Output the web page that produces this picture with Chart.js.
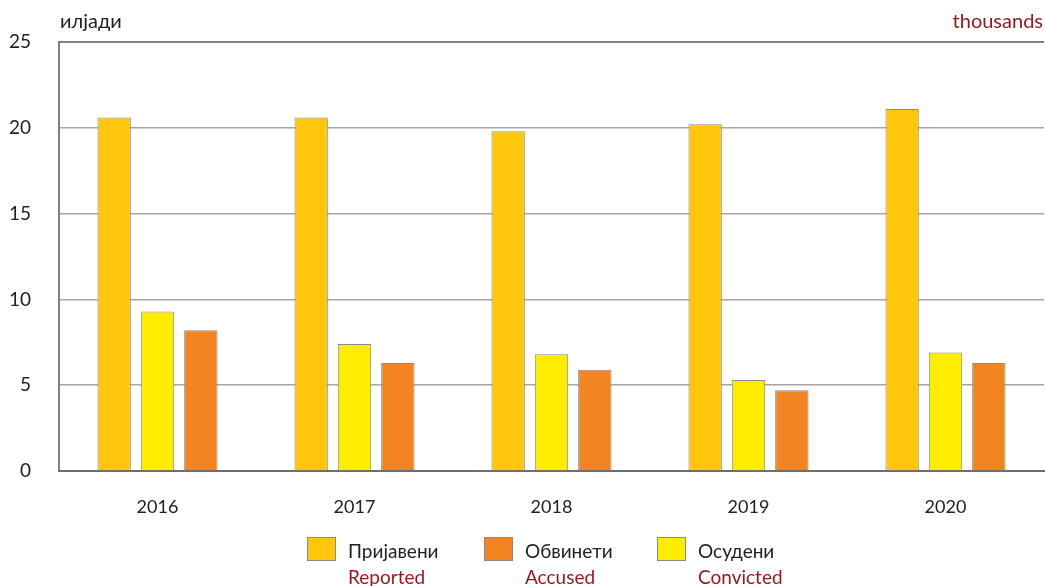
<!DOCTYPE html>
<html>
<head>
<meta charset="utf-8">
<script src="https://cdn.jsdelivr.net/npm/chart.js@4"></script>
<style>
  body { margin: 0; background: #fff; font-family: Lato, "Open Sans", sans-serif; }
  .wrap { position: relative; width: 1045px; height: 586px; }
  .unit { position: absolute; top: 8px; font-size: 20px; color: #222; }
  .unit-mk { left: 60px; }
  .unit-en { right: 2px; color: #9b1519; }
  .legend { position: absolute; top: 537px; left: 0; width: 1045px; }
  .item { position: absolute; top: 0; }
  .box { position: absolute; left: 0; top: 0; width: 29px; height: 24px; border: 1px solid #8a8a8a; box-sizing: border-box; }
  .txt { position: absolute; left: 41px; top: 1px; font-size: 19px; color: #222; white-space: nowrap; line-height: 26px; }
  .txt span { display: block; color: #9b1519; }
</style>
</head>
<body>
<div class="wrap">
  <canvas class="js-kaznivi" width="1045" height="586"></canvas>
  <div class="unit unit-mk">илјади</div>
  <div class="unit unit-en">thousands</div>
  <div class="legend js-legend"></div>
</div>
<script>
const years = ["2016", "2017", "2018", "2019", "2020"];
const reported = [20.6, 20.6, 19.8, 20.2, 21.1];
const convicted = [9.3, 7.4, 6.8, 5.3, 6.9];
const accused = [8.2, 6.3, 5.9, 4.7, 6.3];
const yTicks = [0, 5, 10, 15, 20, 25];

const series = [
  { mk: "Пријавени", en: "Reported", data: reported, color: "#ffc60b" },
  { mk: "Осудени", en: "Convicted", data: convicted, color: "#ffed00" },
  { mk: "Обвинети", en: "Accused", data: accused, color: "#f28522" },
];
// legend order differs from bar order
const legendOrder = [0, 2, 1];
const legendLeft = [307, 484, 657];

const drawLegend = function () {
  const legend = document.querySelector(".js-legend");
  legendOrder.forEach((idx, i) => {
    const s = series[idx];
    const item = document.createElement("div");
    item.className = "item";
    item.style.left = legendLeft[i] + "px";
    item.innerHTML =
      '<div class="box" style="background:' + s.color + '"></div>' +
      '<div class="txt">' + s.mk + "<span>" + s.en + "</span></div>";
    legend.appendChild(item);
  });
};

const chartKaznivi = function () {
  const ctx = document.querySelector(".js-kaznivi");

  new Chart(ctx, {
    type: "bar",
    data: {
      labels: years,
      datasets: series.map((s) => ({
        label: s.en,
        data: s.data,
        backgroundColor: s.color,
        borderColor: "#8a8a8a",
        borderWidth: 1,
        categoryPercentage: 0.66,
        barPercentage: 0.77,
      })),
    },
    options: {
      responsive: false,
      animation: false,
      layout: { padding: { top: 42, right: 1, left: 0, bottom: 0 } },
      scales: {
        y: {
          min: 0,
          max: 25,
          afterFit: (scale) => { scale.width = 59; },
          afterBuildTicks: (scale) => { scale.ticks = yTicks.map((v) => ({ value: v })); },
          grid: {
            color: (c) => (c.tick && c.tick.value === 25 ? "#808080" : "#a6a6a6"),
            lineWidth: (c) => (c.tick && c.tick.value === 25 ? 2 : 1.5),
            drawTicks: false,
          },
          border: { display: true, color: "#808080", width: 2 },
          ticks: {
            padding: 28,
            color: "#222",
            font: { family: "Lato, 'Open Sans', sans-serif", size: 19 },
          },
        },
        x: {
          afterFit: (scale) => { scale.height = 115; },
          grid: { display: false, drawTicks: false },
          border: { display: true, color: "#6e6e6e", width: 2 },
          ticks: {
            padding: 25,
            color: "#222",
            font: { family: "Lato, 'Open Sans', sans-serif", size: 18 },
          },
        },
      },
      plugins: {
        legend: { display: false },
        tooltip: { enabled: false },
      },
    },
  });
};

const init = function () {
  drawLegend();
  chartKaznivi();
};

document.addEventListener("DOMContentLoaded", init);
</script>
</body>
</html>
